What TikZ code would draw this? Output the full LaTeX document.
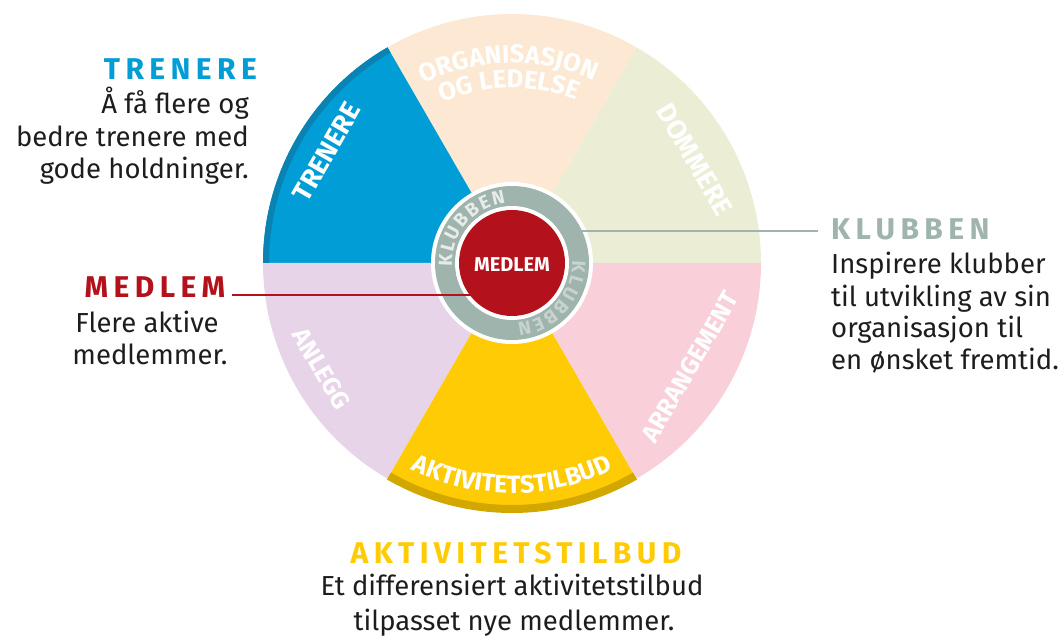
\documentclass[tikz,border=0pt]{standalone}
\usepackage{fontspec}
\setmainfont{Fira Sans}
\usetikzlibrary{decorations.text,calc}
\definecolor{cblue}{HTML}{009DD6}
\definecolor{cbluedark}{HTML}{0A82B2}
\definecolor{corg}{HTML}{FDE9D3}
\definecolor{cgreen}{HTML}{EBEED4}
\definecolor{cpink}{HTML}{F9D0DA}
\definecolor{cpurple}{HTML}{E8D4E9}
\definecolor{cyellow}{HTML}{FFCB05}
\definecolor{cgold}{HTML}{D2A800}
\definecolor{cring}{HTML}{9FB4AD}
\definecolor{cred}{HTML}{B3121C}
\definecolor{ctext}{HTML}{1D1D1B}
\definecolor{klubA}{HTML}{E6ECEA}
\definecolor{klubB}{HTML}{C8D3CF}
\tikzset{
  body/.style={inner sep=0pt, text=ctext, font=\fontsize{27.5}{32}\selectfont},
  title/.style={inner sep=0pt, font=\fontsize{30}{32}\selectfont\bfseries\addfontfeatures{LetterSpace=18}},
  wlabel/.style={inner sep=0pt, text=white, font=\fontsize{27}{27}\selectfont\bfseries},
  lead/.style={line width=1.6pt},
}
\begin{document}
\begin{tikzpicture}[x=1pt,y=1pt]
\useasboundingbox (0,0) rectangle (1058,637);
\coordinate (C) at (512,374);
% sectors
\fill[cgreen]  (C) -- ++(0:249)   arc[start angle=0,  end angle=60, radius=249] -- cycle;
\fill[corg]    (C) -- ++(60:249)  arc[start angle=60, end angle=120,radius=249] -- cycle;
\fill[cblue]   (C) -- ++(120:249) arc[start angle=120,end angle=180,radius=249] -- cycle;
\fill[cpurple] (C) -- ++(180:249) arc[start angle=180,end angle=240,radius=249] -- cycle;
\fill[cyellow] (C) -- ++(240:249) arc[start angle=240,end angle=300,radius=249] -- cycle;
\fill[cpink]   (C) -- ++(300:249) arc[start angle=300,end angle=360,radius=249] -- cycle;
% rims
\fill[cbluedark] (C) ++(120:243) arc[start angle=120,end angle=180,radius=243] -- ++(180:6) arc[start angle=180,end angle=120,radius=249] -- cycle;
\fill[cgold] (C) ++(240:242) arc[start angle=240,end angle=300,radius=242] -- ++(300:8) arc[start angle=300,end angle=240,radius=250] -- cycle;
% sector labels
\node[wlabel, rotate=60]  (ltrn) at ($(C)+(149:216)$) {TRENERE};
\node[wlabel, rotate=-60] (ldom) at ($(C)+(29.5:210)$) {DOMMERE};
\node[wlabel, rotate=60, font=\fontsize{25}{25}\selectfont\bfseries]  (larr) at ($(C)+(-30.3:206)$) {ARRANGEMENT};
\node[wlabel, rotate=-60, font=\fontsize{25}{25}\selectfont\bfseries] (lanl) at ($(C)+(209:218)$) {ANLEGG};
\path[decorate, decoration={text along path, text align=center, text color=white,
  text={|\fontsize{25.5}{25.5}\selectfont\bfseries|ORGANISASJON}}]
  ($(C)+(150:200)$) arc[start angle=150, end angle=32, radius=200];
\path[decorate, decoration={text along path, text align=center, text color=white,
  text={|\fontsize{25.5}{25.5}\selectfont\bfseries|OG LEDELSE}}]
  ($(C)+(150:175)$) arc[start angle=150, end angle=32, radius=175];
\path[decorate, decoration={text along path, text align=center, text color=white,
  text={|\fontsize{25}{25}\selectfont\bfseries|AKTIVITETSTILBUD}}]
  ($(C)+(200:230)$) arc[start angle=200, end angle=340, radius=230];
% centre
\fill[white] (C) circle[radius=81];
\fill[cring] (C) circle[radius=77];
\fill[white] (C) circle[radius=57];
\node[circle, fill=cred, minimum size=106pt, inner sep=0pt] (red) at (C) {};
\node[wlabel, font=\fontsize{20}{20}\selectfont\bfseries] (medc) at ($(C)+(0,-1.5)$) {MEDLEM};
\path[decorate, decoration={text along path, text align=fit to path, text color=klubA,
  text={|\fontsize{19}{19}\selectfont\bfseries|KLUBBEN}}]
  ($(C)+(183:60)$) arc[start angle=183, end angle=96, radius=60];
\path[decorate, decoration={text along path, text align=fit to path, text color=klubB,
  text={|\fontsize{19}{19}\selectfont\bfseries|KLUBBEN}}]
  ($(C)+(2:60)$) arc[start angle=2, end angle=-85, radius=60];
% leader lines
\coordinate (mend) at (480,342);
\coordinate (kend) at (568,406);
% TRENERE block
\node[title, text=cblue, anchor=base east] (ttrn) at (257,557) {TRENERE};
\node[body, anchor=base east] (btrn1) at (249,523) {Å få flere og};
\node[body, anchor=base east] (btrn2) at (249,490.5) {bedre trenere med};
\node[body, anchor=base east] (btrn3) at (249,458) {gode holdninger.};
% MEDLEM block
\node[title, text=cred, anchor=base] (tmed) at (155,339) {MEDLEM};
\node[body, anchor=base] (bmed1) at (147,304) {Flere aktive};
\node[body, anchor=base] (bmed2) at (150,272) {medlemmer.};
\draw[lead, cred] (232,342) coordinate (mstart) -- (mend);
% KLUBBEN block
\node[title, text=cring, anchor=base west] (tklu) at (831,397) {KLUBBEN};
\node[body, anchor=base west] (bklu1) at (831,363) {Inspirere klubber};
\node[body, anchor=base west] (bklu2) at (831,330.3) {til utvikling av sin};
\node[body, anchor=base west] (bklu3) at (831,299) {organisasjon til};
\node[body, anchor=base west] (bklu4) at (831,267) {en ønsket fremtid.};
\draw[lead, cring] (818,406) coordinate (kstart) -- (kend);
% AKTIVITETSTILBUD block
\node[title, text=cyellow, anchor=base] (takt) at (516,73) {AKTIVITETSTILBUD};
\node[body, anchor=base] (bakt1) at (512,41) {Et differensiert aktivitetstilbud};
\node[body, anchor=base] (bakt2) at (514,6) {tilpasset nye medlemmer.};
\end{tikzpicture}
\end{document}
